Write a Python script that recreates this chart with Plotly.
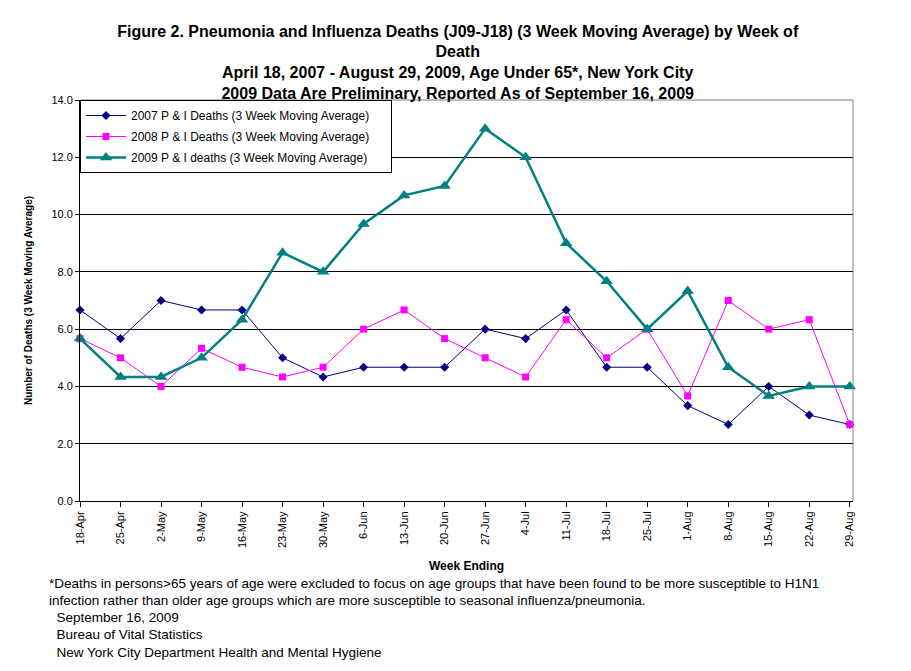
import plotly.graph_objects as go

weeks = ['18-Apr', '25-Apr', '2-May', '9-May', '16-May', '23-May', '30-May', '6-Jun', '13-Jun', '20-Jun',
         '27-Jun', '4-Jul', '11-Jul', '18-Jul', '25-Jul', '1-Aug', '8-Aug', '15-Aug', '22-Aug', '29-Aug']

deaths_2007 = [6.67, 5.67, 7.0, 6.67, 6.67, 5.0, 4.33, 4.67, 4.67, 4.67,
               6.0, 5.67, 6.67, 4.67, 4.67, 3.33, 2.67, 4.0, 3.0, 2.67]
deaths_2008 = [5.67, 5.0, 4.0, 5.33, 4.67, 4.33, 4.67, 6.0, 6.67, 5.67,
               5.0, 4.33, 6.33, 5.0, 6.0, 3.67, 7.0, 6.0, 6.33, 2.67]
deaths_2009 = [5.67, 4.33, 4.33, 5.0, 6.33, 8.67, 8.0, 9.67, 10.67, 11.0,
               13.0, 12.0, 9.0, 7.67, 6.0, 7.33, 4.67, 3.67, 4.0, 4.0]

y_ticks = [0, 2, 4, 6, 8, 10, 12, 14]

x = list(range(len(weeks)))
font_main = 'Liberation Sans, Arial'
pad = '\u00a0' * 5  # widens the legend box a little

fig = go.Figure()
fig.add_trace(go.Scatter(x=x, y=deaths_2007, mode='lines+markers',
                         name='2007 P & I Deaths (3 Week Moving Average)' + pad, legendgroup='a',
                         line=dict(color='#000080', width=1),
                         marker=dict(symbol='diamond', size=7, color='#000080'), cliponaxis=False))
fig.add_trace(go.Scatter(x=x, y=deaths_2008, mode='lines+markers',
                         name='2008 P & I Deaths (3 Week Moving Average)' + pad, legendgroup='b',
                         line=dict(color='#FF00FF', width=1),
                         marker=dict(symbol='square', size=7, color='#FF00FF'), cliponaxis=False))
fig.add_trace(go.Scatter(x=x, y=deaths_2009, mode='lines+markers',
                         name='2009 P & I deaths (3 Week Moving Average)' + pad, legendgroup='c',
                         line=dict(color='#008080', width=2.5),
                         marker=dict(symbol='triangle-up', size=11, color='#008080'), cliponaxis=False))

# page body adds 8px, so the figure is a bit smaller than the window
fig.update_layout(
    width=903, height=663,
    margin=dict(l=72, r=58, t=92, b=170),
    paper_bgcolor='white', plot_bgcolor='white',
    font=dict(family=font_main, size=11, color='black'),
    showlegend=True,
    legend=dict(x=0, y=1, xanchor='left', yanchor='top', bgcolor='white',
                bordercolor='black', borderwidth=1, tracegroupgap=2,
                font=dict(size=12), itemwidth=40),
    title=dict(text='Figure 2. Pneumonia and Influenza Deaths (J09-J18) (3 Week Moving Average) by Week of<br>Death'
                    '<br>April 18, 2007 - August 29, 2009, Age Under 65*, New York City'
                    '<br>2009 Data Are Preliminary, Reported As of September 16, 2009',
               x=0.498, xanchor='center', y=0.957, yanchor='top',
               font=dict(family=font_main, size=16, color='black', weight='bold')),
    xaxis=dict(range=[0, 19.08], tickvals=x, ticktext=weeks, tickangle=-90,
               showgrid=False, zeroline=False, showline=True, linecolor='black', linewidth=1,
               ticks='outside', ticklen=5, tickcolor='black', tickfont=dict(size=11),
               title=dict(text='<b>Week Ending</b>', font=dict(size=12), standoff=14)),
    yaxis=dict(range=[0, 14], tickvals=y_ticks, tickformat='.1f',
               showgrid=True, gridcolor='black', gridwidth=1, zeroline=False,
               showline=True, linecolor='black', linewidth=1,
               ticks='outside', ticklen=4, tickcolor='black', tickfont=dict(size=11),
               title=dict(text='<b>Number of Deaths (3 Week Moving Average)</b>', font=dict(size=10), standoff=16)),
)

# gray frame on top and right of the plot area
fig.add_shape(type='line', xref='paper', yref='paper', x0=0, x1=1, y0=1, y1=1,
              line=dict(color='#808080', width=1))
fig.add_shape(type='line', xref='paper', yref='paper', x0=1, x1=1, y0=0, y1=1,
              line=dict(color='#808080', width=1))

notes = ['*Deaths in persons>65 years of age were excluded to focus on age groups that have been found to be more susceptible to H1N1',
         'infection rather than older age groups which are more susceptible to seasonal influenza/pneumonia.',
         '  September 16, 2009',
         '  Bureau of Vital Statistics',
         '  New York City Department Health and Mental Hygiene']
for i, line in enumerate(notes):
    fig.add_annotation(text=line, xref='paper', yref='paper', x=-0.043, y=-0.205 - i * 0.043,
                       xanchor='left', yanchor='middle', showarrow=False,
                       font=dict(family=font_main, size=13.5, color='black'))

fig.write_html('out.html')
